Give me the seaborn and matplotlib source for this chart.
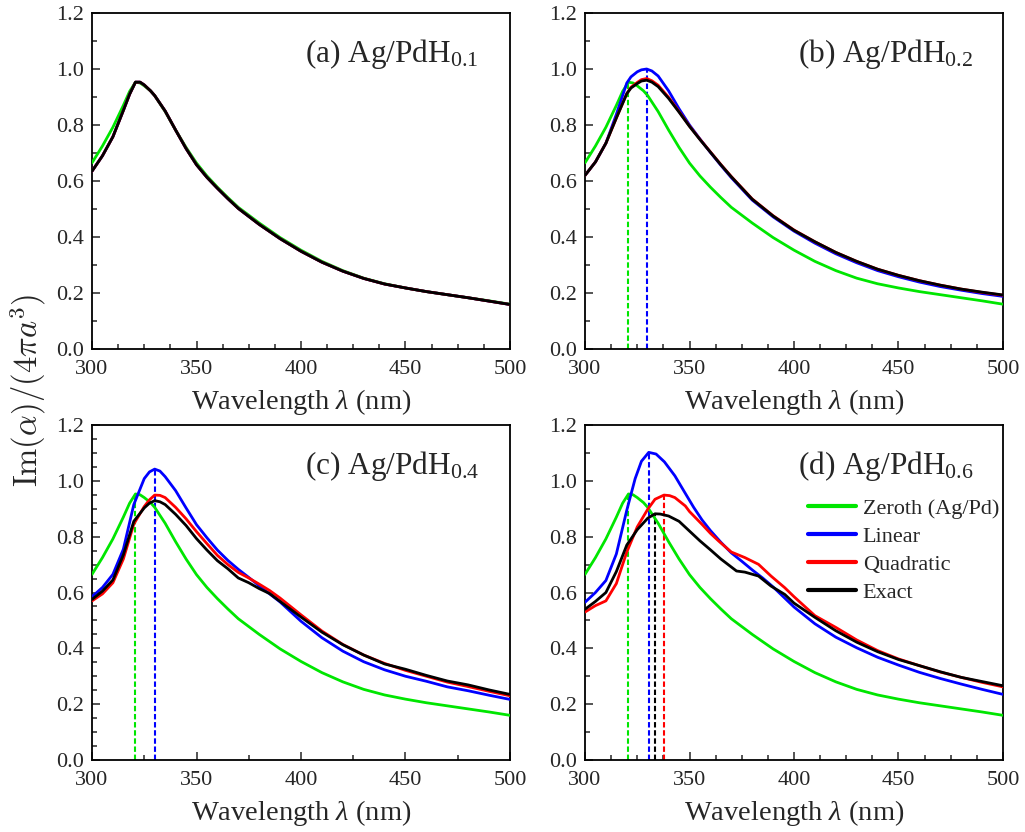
import numpy as np
import pandas as pd
import matplotlib
matplotlib.use("Agg")
import matplotlib.pyplot as plt
from matplotlib.ticker import MultipleLocator, FormatStrFormatter
import seaborn as sns

# ---------------------------------------------------------------------------
# Data: Im(alpha)/(4 pi a^3) versus wavelength (nm)
# ---------------------------------------------------------------------------
# Zeroth order (Ag/Pd) - identical in every panel
zeroth_wl = [300, 305, 310, 315, 318, 320.8, 323, 325, 328, 330, 335, 340,
             345, 350, 355, 360, 365, 370, 380, 390, 400, 410, 420, 430, 440,
             450, 460, 470, 480, 490, 500]
zeroth_im = [0.665, 0.725, 0.792, 0.870, 0.920, 0.953, 0.950, 0.940, 0.922,
             0.905, 0.848, 0.782, 0.720, 0.664, 0.618, 0.578, 0.541, 0.506,
             0.450, 0.398, 0.353, 0.313, 0.280, 0.253, 0.233, 0.218, 0.205,
             0.194, 0.183, 0.172, 0.160]

# (a) Ag/PdH0.1 - linear, quadratic and exact coincide
a_wl = [300, 305, 310, 315, 318, 320.8, 323, 325, 328, 330, 335, 340, 345,
        350, 355, 360, 365, 370, 380, 390, 400, 410, 420, 430, 440, 450, 460,
        470, 480, 490, 500]
a_exact = [0.635, 0.690, 0.758, 0.852, 0.910, 0.953, 0.953, 0.943, 0.922,
           0.905, 0.850, 0.782, 0.716, 0.658, 0.613, 0.574, 0.537, 0.502,
           0.445, 0.394, 0.349, 0.310, 0.278, 0.252, 0.232, 0.218, 0.205,
           0.194, 0.183, 0.171, 0.159]
a_linear = a_exact
a_quadratic = a_exact

# (b) Ag/PdH0.2
b_wl = [300, 305, 310, 315, 320, 322, 325, 327, 329.5, 332, 335, 340, 345,
        350, 355, 360, 365, 370, 380, 390, 400, 410, 420, 430, 440, 450, 460,
        470, 480, 490, 500]
b_linear = [0.620, 0.668, 0.735, 0.838, 0.950, 0.972, 0.990, 0.997, 1.000,
            0.993, 0.975, 0.922, 0.858, 0.800, 0.750, 0.702, 0.656, 0.612,
            0.532, 0.472, 0.421, 0.378, 0.340, 0.308, 0.280, 0.258, 0.239,
            0.223, 0.210, 0.198, 0.188]
b_quadratic = [0.620, 0.668, 0.735, 0.825, 0.912, 0.935, 0.952, 0.962, 0.966,
               0.958, 0.942, 0.899, 0.848, 0.796, 0.749, 0.704, 0.659, 0.616,
               0.536, 0.476, 0.425, 0.383, 0.345, 0.313, 0.285, 0.263, 0.244,
               0.228, 0.214, 0.202, 0.192]
b_exact = [0.620, 0.668, 0.735, 0.825, 0.912, 0.932, 0.948, 0.957, 0.960,
           0.953, 0.937, 0.895, 0.846, 0.795, 0.748, 0.703, 0.658, 0.615,
           0.535, 0.475, 0.424, 0.383, 0.345, 0.313, 0.285, 0.263, 0.244,
           0.228, 0.214, 0.203, 0.193]

# (c) Ag/PdH0.4
c_wl = [300, 305, 310, 315, 320, 325, 327.5, 330, 332.5, 335, 340, 345, 350,
        355, 360, 365, 370, 375, 380, 385, 390, 400, 410, 420, 430, 440, 450,
        460, 470, 480, 490, 500]
c_linear = [0.585, 0.618, 0.665, 0.755, 0.915, 1.008, 1.032, 1.042, 1.035,
            1.015, 0.965, 0.903, 0.843, 0.796, 0.752, 0.715, 0.683, 0.654,
            0.624, 0.595, 0.566, 0.497, 0.438, 0.390, 0.352, 0.323, 0.300,
            0.282, 0.262, 0.248, 0.232, 0.217]
c_quadratic = [0.570, 0.595, 0.635, 0.720, 0.845, 0.908, 0.932, 0.949, 0.948,
               0.940, 0.905, 0.864, 0.818, 0.775, 0.733, 0.700, 0.672, 0.652,
               0.630, 0.607, 0.580, 0.520, 0.462, 0.414, 0.376, 0.346, 0.321,
               0.300, 0.279, 0.263, 0.246, 0.230]
c_exact = [0.575, 0.605, 0.645, 0.735, 0.855, 0.903, 0.920, 0.929, 0.925,
           0.915, 0.880, 0.840, 0.793, 0.752, 0.714, 0.685, 0.652, 0.635,
           0.614, 0.596, 0.568, 0.512, 0.458, 0.413, 0.376, 0.344, 0.325,
           0.303, 0.283, 0.269, 0.251, 0.235]

# (d) Ag/PdH0.6
d_lin_wl = [300, 305, 310, 315, 320, 324, 327, 330.5, 334, 338, 343, 348, 352,
            356, 360, 365, 370, 375, 380, 385, 390, 400, 410, 420, 430, 440,
            450, 460, 470, 480, 490, 500]
d_linear = [0.565, 0.600, 0.643, 0.738, 0.895, 1.008, 1.070, 1.102, 1.096,
            1.068, 1.018, 0.955, 0.905, 0.860, 0.822, 0.780, 0.742, 0.712,
            0.681, 0.652, 0.620, 0.548, 0.488, 0.440, 0.402, 0.368, 0.340,
            0.314, 0.292, 0.272, 0.253, 0.235]
d_quad_wl = [300, 305, 310, 315, 320, 325, 330, 333.5, 337.8, 340.5, 343, 348,
             350, 356, 360, 364, 370, 376.5, 383, 389, 395.6, 400, 410, 420,
             430, 440, 450, 460, 470, 480, 490, 500]
d_quadratic = [0.530, 0.553, 0.570, 0.632, 0.745, 0.835, 0.898, 0.934, 0.949,
               0.947, 0.940, 0.910, 0.890, 0.844, 0.812, 0.784, 0.745, 0.725,
               0.701, 0.659, 0.617, 0.585, 0.517, 0.475, 0.430, 0.392, 0.362,
               0.338, 0.315, 0.296, 0.278, 0.262]
d_exact_wl = [300, 305, 310, 315, 320, 325, 330, 333.5, 336, 340, 345, 350,
              355, 360, 365, 372.5, 376.5, 383, 389, 395.6, 400, 410, 420, 430,
              440, 450, 460, 470, 480, 490, 500]
d_exact = [0.540, 0.568, 0.600, 0.675, 0.770, 0.825, 0.866, 0.882, 0.881,
           0.874, 0.855, 0.820, 0.785, 0.753, 0.720, 0.677, 0.673, 0.659,
           0.623, 0.593, 0.562, 0.511, 0.463, 0.422, 0.388, 0.360, 0.338,
           0.316, 0.296, 0.281, 0.266]

panel_titles = [r"(a) Ag/PdH$_{0.1}$", r"(b) Ag/PdH$_{0.2}$",
                r"(c) Ag/PdH$_{0.4}$", r"(d) Ag/PdH$_{0.6}$"]
series_names = ["Zeroth (Ag/Pd)", "Linear", "Quadratic", "Exact"]
series_colors = ["#00e600", "#0000ff", "#ff0000", "#000000"]

panels = [
    dict(lin=(a_wl, a_linear), quad=(a_wl, a_quadratic), exact=(a_wl, a_exact),
         peaks=[]),
    dict(lin=(b_wl, b_linear), quad=(b_wl, b_quadratic), exact=(b_wl, b_exact),
         peaks=["zeroth", "lin"]),
    dict(lin=(c_wl, c_linear), quad=(c_wl, c_quadratic), exact=(c_wl, c_exact),
         peaks=["zeroth", "lin"]),
    dict(lin=(d_lin_wl, d_linear), quad=(d_quad_wl, d_quadratic),
         exact=(d_exact_wl, d_exact),
         peaks=["zeroth", "lin", "exact", "quad"]),
]

# ---------------------------------------------------------------------------
# Style
# ---------------------------------------------------------------------------
sns.set_style("ticks")
plt.rcParams["font.family"] = ["Liberation Serif", "DejaVu Serif"]
plt.rcParams["mathtext.fontset"] = "custom"
plt.rcParams["mathtext.rm"] = "Liberation Serif"
plt.rcParams["mathtext.it"] = "Liberation Serif:italic"
plt.rcParams["axes.linewidth"] = 1.3
plt.rcParams["axes.edgecolor"] = "black"

fig = plt.figure(figsize=(10.25, 8.32), dpi=100)
W, H = 1025, 832
boxes = [(92, 13, 510, 349), (585, 13, 1003, 349),
         (92, 425, 510, 760), (585, 425, 1003, 760)]
axes = [fig.add_axes([l / W, 1 - b / H, (r - l) / W, (b - t) / H])
        for (l, t, r, b) in boxes]

keys = ["zeroth", "lin", "quad", "exact"]
for i, (ax, p) in enumerate(zip(axes, panels)):
    curves = {"zeroth": (zeroth_wl, zeroth_im), "lin": p["lin"],
              "quad": p["quad"], "exact": p["exact"]}
    for k, name, col in zip(keys, series_names, series_colors):
        wl, val = curves[k]
        sns.lineplot(x=wl, y=val, ax=ax, color=col, lw=2.0,
                     label=name if i == 3 else None, sort=False,
                     estimator=None, zorder=3)
    # dashed drop lines from each resonance peak down to the axis
    for k in p["peaks"]:
        wl, val = curves[k]
        j = int(np.argmax(val))
        col = series_colors[keys.index(k)]
        ax.plot([wl[j], wl[j]], [0, val[j]], color=col, lw=1.5,
                dashes=(2.6, 1.3), zorder=2)

    ax.set_xlim(300, 500)
    ax.set_ylim(0, 1.2)
    ax.xaxis.set_major_locator(MultipleLocator(50))
    ax.yaxis.set_major_locator(MultipleLocator(0.2))
    if i == 2:
        ax.xaxis.set_minor_locator(MultipleLocator(25))
        ax.yaxis.set_minor_locator(MultipleLocator(0.05))
    else:
        ax.xaxis.set_minor_locator(MultipleLocator(12.5))
        ax.yaxis.set_minor_locator(MultipleLocator(0.1))
    ax.yaxis.set_major_formatter(FormatStrFormatter("%.1f"))
    ax.tick_params(which="both", direction="in", top=False, right=False,
                   labelsize=16, width=1.1)
    ax.tick_params(axis="x", which="major", pad=8)
    ax.tick_params(axis="y", which="major", pad=5.5)
    ax.tick_params(which="major", length=6)
    ax.tick_params(which="minor", length=3.5)
    for s in ax.spines.values():
        s.set_visible(True)
        s.set_linewidth(1.3)
    ax.set_xlabel(r"Wavelength $\lambda$ (nm)", fontsize=20.5, labelpad=6)
    ax.set_ylabel("")
    ax.text(0.51, 0.855, panel_titles[i], transform=ax.transAxes,
            fontsize=22.5, ha="left", va="baseline")
    leg = ax.get_legend()
    if leg is not None and i != 3:
        leg.remove()

axes[3].legend(loc="upper left", bbox_to_anchor=(0.533, 0.782), frameon=False,
               fontsize=16, handlelength=2.15, handletextpad=0.32,
               labelspacing=0.34, borderpad=0, borderaxespad=0)
for line in axes[3].get_legend().get_lines():
    line.set_linewidth(3.0)

fig.text(0.027, 0.531, r"$\mathrm{Im}(\alpha)/(4\pi a^{3})$", rotation=90,
         fontsize=23.5, ha="center", va="center", math_fontfamily="cm")

fig.savefig("out.png", dpi=100)
